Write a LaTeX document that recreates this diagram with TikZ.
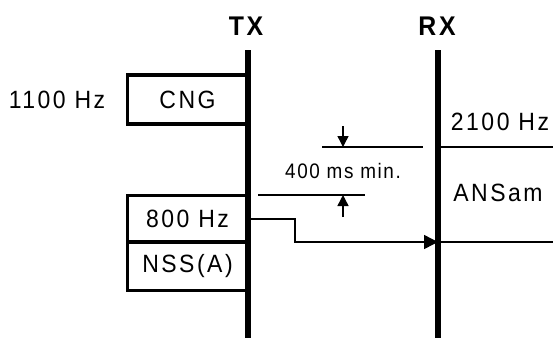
\documentclass[tikz,border=0pt]{standalone}
\usepackage{fontspec}
\setmainfont{Liberation Sans}
\newfontfamily\sigfont{Liberation Sans}[LetterSpace=10, FakeStretch=0.92]
\newfontfamily\dimfont{Liberation Sans}[LetterSpace=7.5, FakeStretch=0.9]
\usetikzlibrary{positioning, calc, arrows.meta}

\tikzset{
  station/.style={font=\sigfont\bfseries\fontsize{27}{30}\selectfont},
  sigbox/.style={draw, line width=3.5pt, outer sep=0pt, minimum width=120pt, inner sep=0pt, font=\sigfont\fontsize{25}{28}\selectfont},
  siglabel/.style={font=\sigfont\fontsize{25}{28}\selectfont, inner sep=0pt},
  axis/.style={line width=5.5pt},
  tone/.style={line width=2.5pt},
  thin/.style={line width=1.4pt}
}

\begin{document}
\begin{tikzpicture}[x=1pt, y=-1pt]
\useasboundingbox (0, 0) rectangle (553, 338);

% stations
\node[station] (tx) at (246, 26) {TX};
\node[station] (rx) at (437, 26) {RX};
\coordinate (txtop) at (248, 50);
\coordinate (txbot) at (248, 338);
\coordinate (rxtop) at (438, 50);
\coordinate (rxbot) at (438, 338);
\draw [axis] (txtop) -- (txbot);
\draw [axis] (rxtop) -- (rxbot);

% TX side
\node[sigbox, minimum height=49pt] (cng) at (187.5, 99.5) {CNG};
\node[siglabel] (cngf) at (57, 99.5) {1100 Hz};
\node[sigbox, minimum height=46.5pt] (v21) at (187.5, 218.5) {800 Hz};
\node[sigbox, minimum height=48.5pt, below=0pt of v21] (nss) {NSS(A)};

% RX side
\coordinate (ansa) at (438, 147);
\coordinate (ansb) at (553, 147);
\coordinate (ansc) at (438, 242);
\coordinate (ansd) at (553, 242);
\draw [tone] (ansa) -- (ansb);
\draw [tone] (ansc) -- (ansd);
\node[siglabel] (ansf) at (500, 122) {2100 Hz};
\node[siglabel] (ans) at (498, 193) {ANSam};

% signal
\coordinate (sa) at (248, 219);
\coordinate (sb) at (295, 242);
\draw [thin, -{Triangle[length=14pt, width=14pt]}] (sa) -| (sb) -- (sb -| rxtop);

% 400 ms
\coordinate (da) at (322, 147);
\coordinate (db) at (423, 147);
\coordinate (dc) at (258, 195);
\coordinate (dd) at (365, 195);
\draw [thin] (da) -- (db);
\draw [thin] (dc) -- (dd);
\coordinate (ua) at (343, 126);
\coordinate (ub) at (343, 147);
\coordinate (uc) at (343, 217);
\coordinate (ud) at (343, 195);
\draw [thin, -{Triangle[length=11pt, width=11pt]}] (ua) -- (ub);
\draw [thin, -{Triangle[length=11pt, width=11pt]}] (uc) -- (ud);
\node[font=\dimfont\fontsize{21}{23}\selectfont, inner sep=0pt] (dim) at (343, 170.5) {400 ms min.};

\end{tikzpicture}
\end{document}
